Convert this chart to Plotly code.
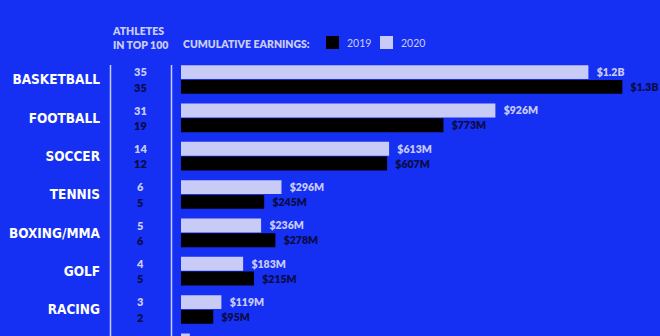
import plotly.graph_objects as go

# ---- data ----
sports = ["BASKETBALL", "FOOTBALL", "SOCCER", "TENNIS", "BOXING/MMA", "GOLF", "RACING", "CRICKET"]
athletes_2020 = [35, 31, 14, 6, 5, 4, 3, 1]
athletes_2019 = [35, 19, 12, 5, 6, 5, 2, 1]
earnings_2020 = [1.2, 0.926, 0.613, 0.296, 0.236, 0.183, 0.119, 0.026]   # $B
earnings_2019 = [1.3, 0.773, 0.607, 0.245, 0.278, 0.215, 0.095, 0.025]   # $B
labels_2020 = ["$1.2B", "$926M", "$613M", "$296M", "$236M", "$183M", "$119M", ""]
labels_2019 = ["$1.3B", "$773M", "$607M", "$245M", "$278M", "$215M", "$95M", ""]
visible_rows = 7   # the last category is cut off by the bottom edge

# ---- style ----
BG = "#1530F2"
LAV = "#C9CBF7"
DARK = "#000000"
NAVY = "#0B0B45"
W, H = 660, 336
L = 181                      # left margin (bars start here)
PW = W - L                   # plot width in px
FONT = "Lato, 'Open Sans', sans-serif"
COND = "'DejaVu Sans Condensed', sans-serif"


def px_x(px):
    return (px - L) / PW


def px_y(py):
    return 1 - py / H


fig = go.Figure()
fig.add_trace(go.Bar(
    name="2020", y=sports, x=earnings_2020, orientation="h",
    marker=dict(color=LAV, line=dict(width=0)),
    text=["\u2002" + t if t else "" for t in labels_2020], textposition="outside",
    textfont=dict(color=LAV, size=10.5, family=FONT, weight=800),
    constraintext="none", cliponaxis=True, showlegend=False,
))
fig.add_trace(go.Bar(
    name="2019", y=sports, x=earnings_2019, orientation="h",
    marker=dict(color=DARK, line=dict(width=0)),
    text=["\u2002" + t if t else "" for t in labels_2019], textposition="outside",
    textfont=dict(color=NAVY, size=10.5, family=FONT, weight=800),
    constraintext="none", cliponaxis=True, showlegend=False,
))

pitch = 38.33
c0 = 79.5
annotations = []
shift = 7.6
for s, a20, a19 in list(zip(sports, athletes_2020, athletes_2019))[:visible_rows]:
    annotations.append(dict(x=px_x(140), xref="paper", y=s, yref="y", yshift=shift,
                            text=str(a20), showarrow=False, xanchor="center", yanchor="middle",
                            font=dict(color=LAV, size=11, family=FONT, weight=800)))
    annotations.append(dict(x=px_x(140), xref="paper", y=s, yref="y", yshift=-shift,
                            text=str(a19), showarrow=False, xanchor="center", yanchor="middle",
                            font=dict(color=NAVY, size=11, family=FONT, weight=800)))

hdr = dict(color=LAV, size=10.5, family=FONT, weight=800)
annotations += [
    dict(x=px_x(110), y=px_y(37.5), xref="paper", yref="paper", text="ATHLETES<br>IN TOP 100",
         showarrow=False, xanchor="left", yanchor="middle", align="left", font=hdr),
    dict(x=px_x(181), y=px_y(44), xref="paper", yref="paper", text="CUMULATIVE EARNINGS:",
         showarrow=False, xanchor="left", yanchor="middle", font=hdr),
    dict(x=px_x(345), y=px_y(42.5), xref="paper", yref="paper", text="2019",
         showarrow=False, xanchor="left", yanchor="middle",
         font=dict(color=LAV, size=10.5, family=FONT)),
    dict(x=px_x(399), y=px_y(42.5), xref="paper", yref="paper", text="2020",
         showarrow=False, xanchor="left", yanchor="middle",
         font=dict(color=LAV, size=10.5, family=FONT)),
]

shapes = [
    dict(type="line", xref="paper", yref="paper", x0=px_x(110.5), x1=px_x(110.5), y0=0, y1=px_y(65),
         line=dict(color=LAV, width=1.5)),
    dict(type="line", xref="paper", yref="paper", x0=px_x(171.5), x1=px_x(171.5), y0=0, y1=px_y(65),
         line=dict(color=LAV, width=1.5)),
    dict(type="rect", xref="paper", yref="paper", x0=px_x(326), x1=px_x(339), y0=px_y(49), y1=px_y(36),
         fillcolor=DARK, line=dict(width=0)),
    dict(type="rect", xref="paper", yref="paper", x0=px_x(380), x1=px_x(393), y0=px_y(49), y1=px_y(36),
         fillcolor=LAV, line=dict(width=0)),
]

fig.update_layout(
    width=W, height=H,
    margin=dict(l=L, r=0, t=0, b=0, pad=0, autoexpand=False),
    paper_bgcolor=BG, plot_bgcolor=BG,
    barmode="group", bargap=0.23, bargroupgap=0.06,
    annotations=annotations, shapes=shapes,
    xaxis=dict(range=[0, PW / 339.5], visible=False, fixedrange=True, automargin=False),
    yaxis=dict(type="category", categoryorder="array", categoryarray=sports,
               range=[(H - c0) / pitch, -c0 / pitch], automargin=False,
               showgrid=False, zeroline=False, showline=False, ticks="",
               ticklabelstandoff=80,
               tickfont=dict(color="#FFFFFF", size=13.5, family=COND, weight="bold")),
    showlegend=False,
)

fig.write_html("out.html")
